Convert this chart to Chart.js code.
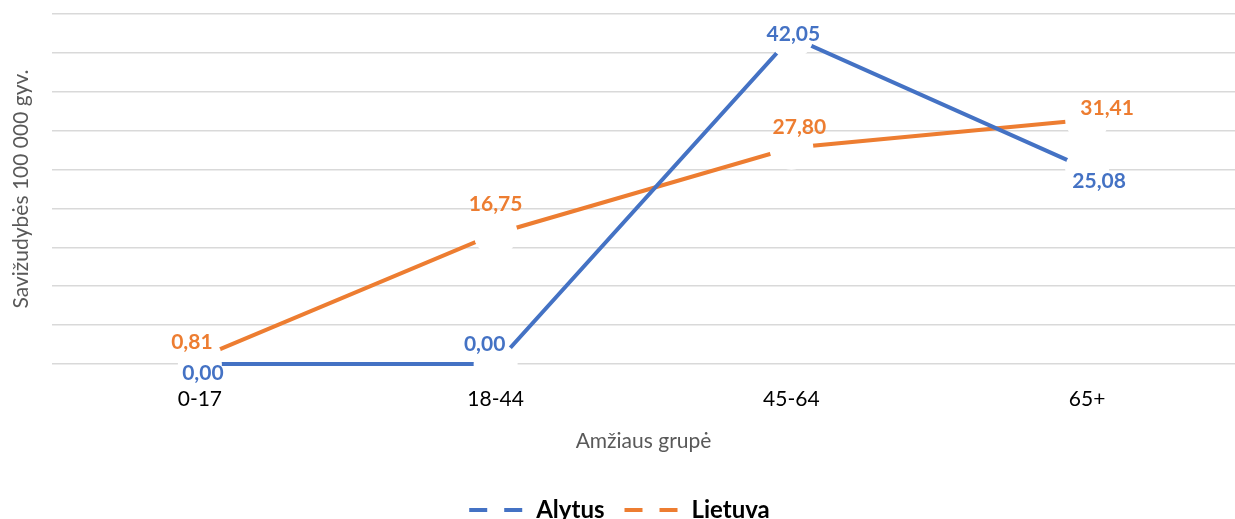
<!DOCTYPE html>
<html>
<head>
<meta charset="utf-8">
<script src="https://cdn.jsdelivr.net/npm/chart.js@4/dist/chart.umd.min.js"></script>
<style>
  html, body { margin: 0; padding: 0; background: #fff; }
  #wrap { width: 1235px; height: 519px; }
</style>
</head>
<body>
<div id="wrap"><canvas class="chart"></canvas></div>
<script>
const ageGroups = ['0-17', '18-44', '45-64', '65+'];
const alytus = [0.00, 0.00, 42.05, 25.08];
const lietuva = [0.81, 16.75, 27.80, 31.41];

// label nudges in pixels, relative to each point
const alytusLabelShift = [[3, 9], [-11, -20], [2, -3], [12, 12]];
const lietuvaLabelShift = [[-8, -15], [0, -29], [8, -21], [20, -11]];

const blue = '#4472C4';
const orange = '#ED7D31';
const font = 'Lato';

// white "markers" that cut the lines and gridlines, drawn per dataset
// so the later (upper) series still goes over them
const whiteMarkers = {
  id: 'whiteMarkers',
  afterDatasetDraw(chart, args) {
    const ctx = chart.ctx;
    const a = chart.chartArea;
    ctx.save();
    ctx.beginPath();
    ctx.rect(a.left, a.top - 2, a.right - a.left, a.bottom - a.top + 4);
    ctx.clip();
    ctx.fillStyle = '#fff';
    args.meta.data.forEach(pt => {
      ctx.beginPath();
      ctx.arc(pt.x, pt.y, 22, 0, Math.PI * 2);
      ctx.fill();
    });
    ctx.restore();
  }
};

const valueLabels = {
  id: 'valueLabels',
  afterDatasetsDraw(chart) {
    const ctx = chart.ctx;
    ctx.save();
    ctx.font = 'bold 21px ' + font;
    ctx.textAlign = 'center';
    ctx.textBaseline = 'middle';
    chart.data.datasets.forEach((ds, i) => {
      const meta = chart.getDatasetMeta(i);
      meta.data.forEach((pt, j) => {
        const [dx, dy] = ds.labelShift[j];
        ctx.fillStyle = ds.borderColor;
        ctx.fillText(ds.data[j].toFixed(2).replace('.', ','), pt.x + dx, pt.y + dy);
      });
    });
    ctx.restore();
  }
};

document.addEventListener('DOMContentLoaded', () => {
  new Chart(
    document.querySelector('.chart'),
    {
      type: 'line',
      data: {
        labels: ageGroups,
        datasets: [
          {
            label: 'Alytus',
            data: alytus,
            labelShift: alytusLabelShift,
            borderColor: blue,
            backgroundColor: blue,
            borderWidth: 4,
            pointRadius: 0,
            pointHoverRadius: 0,
            tension: 0,
            clip: 6
          },
          {
            label: 'Lietuva',
            data: lietuva,
            labelShift: lietuvaLabelShift,
            borderColor: orange,
            backgroundColor: orange,
            borderWidth: 4,
            pointRadius: 0,
            pointHoverRadius: 0,
            tension: 0,
            clip: 6
          }
        ]
      },
      options: {
        responsive: true,
        maintainAspectRatio: false,
        animation: false,
        layout: { padding: { top: 14, left: 4, right: 0, bottom: -13 } },
        plugins: {
          tooltip: { enabled: false },
          legend: {
            position: 'bottom',
            labels: {
              usePointStyle: true,
              pointStyleWidth: 55,
              padding: 20,
              color: '#000',
              font: { family: font, size: 24, weight: 'bold' },
              generateLabels(chart) {
                return chart.data.datasets.map((ds, i) => ({
                  text: ds.label,
                  datasetIndex: i,
                  fillStyle: ds.borderColor,
                  strokeStyle: ds.borderColor,
                  lineWidth: 4,
                  lineDash: [18, 17],
                  pointStyle: 'line',
                  fontColor: '#000'
                }));
              }
            }
          }
        },
        scales: {
          x: {
            offset: true,
            grid: { display: false, drawTicks: false },
            border: { display: false },
            ticks: { color: '#000', padding: 23, font: { family: font, size: 21 } },
            title: {
              display: true,
              text: 'Amžiaus grupė',
              color: '#595959',
              font: { family: font, size: 21 },
              padding: { top: -7, bottom: 24.6 }
            }
          },
          y: {
            min: 0,
            max: 45,
            ticks: { stepSize: 5, display: false },
            grid: { color: '#d9d9d9', lineWidth: 1.5, drawTicks: false },
            border: { display: false },
            title: {
              display: true,
              text: 'Savižudybės 100 000 gyv.',
              color: '#595959',
              font: { family: font, size: 21 },
              padding: { top: 4.4, bottom: 18.4 }
            }
          }
        }
      },
      plugins: [whiteMarkers, valueLabels]
    }
  );
});
</script>
</body>
</html>
